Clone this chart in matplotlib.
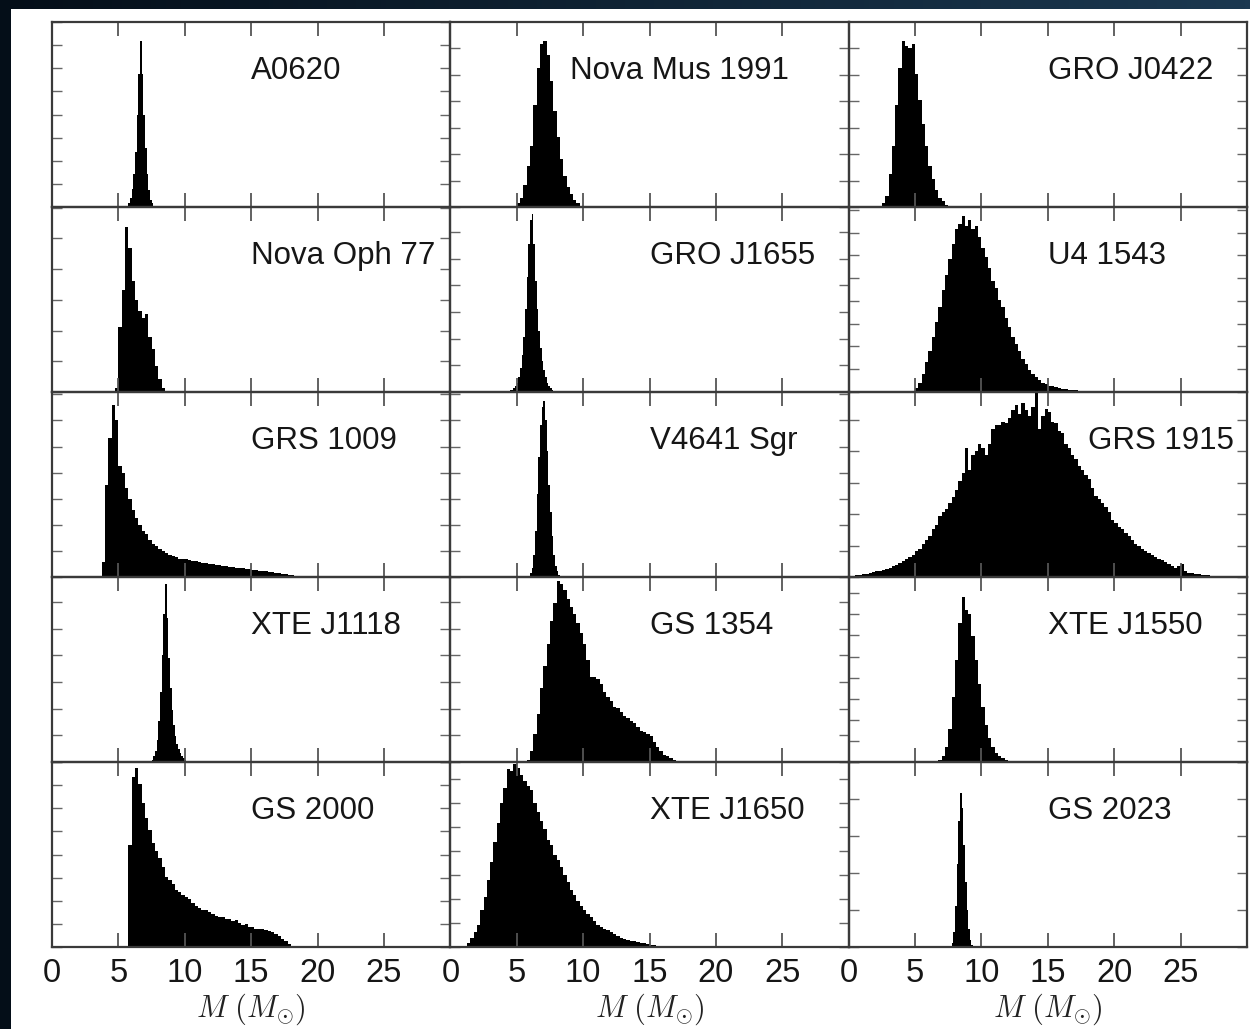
import numpy as np
import matplotlib
matplotlib.use("Agg")
import matplotlib.pyplot as plt
from matplotlib.patches import Rectangle
from matplotlib.ticker import MultipleLocator

# each source: first bin edge, bin width (solar masses) and normalised bin heights
a0620_start, a0620_bin = 5.75, 0.125
a0620 = [0.02, 0.05, 0.1, 0.18, 0.3, 0.5, 0.72, 0.9, 0.72, 0.5, 0.32, 0.18, 0.09, 0.04, 0.02]

nova_mus_start, nova_mus_bin = 5.0, 0.25
nova_mus = [0.02, 0.05, 0.12, 0.22, 0.33, 0.55, 0.75, 0.88, 0.9, 0.82, 0.68, 0.52,
            0.38, 0.26, 0.17, 0.11, 0.07, 0.04, 0.02]

gro_j0422_start, gro_j0422_bin = 2.5, 0.25
gro_j0422 = [0.02, 0.06, 0.18, 0.33, 0.55, 0.75, 0.9, 0.87, 0.86, 0.88, 0.72, 0.58,
             0.45, 0.33, 0.22, 0.15, 0.09, 0.05, 0.03, 0.01]

nova_oph_start, nova_oph_bin = 4.75, 0.25
nova_oph = [0.02, 0.35, 0.55, 0.89, 0.78, 0.6, 0.5, 0.44, 0.4, 0.42, 0.3, 0.23,
            0.14, 0.07, 0.02]

gro_j1655_start, gro_j1655_bin = 4.5, 0.125
gro_j1655 = [0.01, 0.01, 0.02, 0.03, 0.05, 0.08, 0.13, 0.2, 0.3, 0.45, 0.62, 0.8,
             0.93, 0.96, 0.8, 0.6, 0.45, 0.33, 0.24, 0.17, 0.12, 0.08, 0.05, 0.03,
             0.02, 0.01]

u4_1543_start, u4_1543_bin = 5.0, 0.25
u4_1543 = [0.02, 0.05, 0.1, 0.16, 0.22, 0.3, 0.38, 0.46, 0.55, 0.63, 0.72, 0.8,
           0.88, 0.91, 0.95, 0.9, 0.93, 0.88, 0.9, 0.84, 0.78, 0.73, 0.67, 0.6,
           0.56, 0.5, 0.46, 0.4, 0.35, 0.3, 0.26, 0.22, 0.18, 0.15, 0.12, 0.1,
           0.08, 0.065, 0.05, 0.045, 0.035, 0.03, 0.025, 0.02, 0.018, 0.015, 0.013, 0.012,
           0.01, 0.008, 0.007, 0.006, 0.006, 0.005, 0.005, 0.004, 0.004, 0.003, 0.003, 0.002,
           0.002, 0.002, 0.001, 0.001, 0.001, 0.001]

grs_1009_start, grs_1009_bin = 3.75, 0.25
grs_1009 = [0.08, 0.5, 0.75, 0.93, 0.85, 0.6, 0.56, 0.48, 0.42, 0.36, 0.32, 0.28,
            0.25, 0.23, 0.2, 0.18, 0.165, 0.15, 0.14, 0.13, 0.12, 0.115, 0.11, 0.1,
            0.098, 0.095, 0.09, 0.088, 0.085, 0.08, 0.078, 0.075, 0.07, 0.068, 0.065, 0.063,
            0.06, 0.058, 0.055, 0.052, 0.05, 0.048, 0.046, 0.044, 0.042, 0.04, 0.038, 0.035,
            0.033, 0.03, 0.028, 0.025, 0.022, 0.02, 0.018, 0.015, 0.012, 0.01, 0.008, 0.006,
            0.004, 0.003, 0.002, 0.001]

v4641_start, v4641_bin = 6.0, 0.125
v4641 = [0.02, 0.05, 0.12, 0.25, 0.45, 0.65, 0.82, 0.92, 0.95, 0.85, 0.68, 0.5,
         0.35, 0.22, 0.12, 0.06, 0.03, 0.01]

grs_1915_start, grs_1915_bin = 0.25, 0.25
grs_1915 = [0.005, 0.01, 0.01, 0.015, 0.015, 0.02, 0.025, 0.03, 0.035, 0.04, 0.045, 0.05,
            0.06, 0.065, 0.075, 0.085, 0.1, 0.11, 0.12, 0.14, 0.15, 0.18, 0.2, 0.22,
            0.26, 0.28, 0.33, 0.35, 0.37, 0.4, 0.43, 0.47, 0.52, 0.56, 0.7, 0.58,
            0.66, 0.68, 0.72, 0.7, 0.66, 0.72, 0.8, 0.82, 0.82, 0.84, 0.83, 0.86,
            0.9, 0.93, 0.88, 0.94, 0.9, 0.87, 0.92, 1.05, 0.8, 0.87, 0.91, 0.89,
            0.84, 0.83, 0.79, 0.78, 0.72, 0.7, 0.66, 0.64, 0.6, 0.58, 0.55, 0.53,
            0.48, 0.44, 0.42, 0.4, 0.38, 0.35, 0.31, 0.29, 0.27, 0.26, 0.24, 0.22,
            0.2, 0.18, 0.17, 0.15, 0.14, 0.13, 0.12, 0.11, 0.1, 0.09, 0.08, 0.07,
            0.06, 0.05, 0.06, 0.07, 0.03, 0.02, 0.02, 0.015, 0.015, 0.012, 0.01, 0.01,
            0.008, 0.008, 0.006, 0.005, 0.005, 0.004, 0.003, 0.002, 0.002, 0.001]

xte_j1118_start, xte_j1118_bin = 7.5, 0.125
xte_j1118 = [0.01, 0.03, 0.06, 0.12, 0.22, 0.38, 0.58, 0.8, 0.96, 0.78, 0.56, 0.4,
             0.28, 0.2, 0.14, 0.1, 0.07, 0.05, 0.03, 0.02, 0.01, 0.005]

gs_1354_start, gs_1354_bin = 5.75, 0.25
gs_1354 = [0.01, 0.06, 0.15, 0.26, 0.4, 0.52, 0.64, 0.76, 0.86, 0.98, 0.96, 0.93,
           0.88, 0.84, 0.8, 0.75, 0.7, 0.64, 0.55, 0.46, 0.46, 0.45, 0.42, 0.38,
           0.35, 0.33, 0.3, 0.29, 0.27, 0.25, 0.24, 0.22, 0.21, 0.19, 0.17, 0.16,
           0.15, 0.14, 0.11, 0.08, 0.06, 0.04, 0.03, 0.02, 0.01, 0.008, 0.005, 0.004,
           0.003, 0.002, 0.001, 0.001, 0.001, 0.001]

xte_j1550_start, xte_j1550_bin = 6.75, 0.25
xte_j1550 = [0.01, 0.03, 0.08, 0.18, 0.35, 0.55, 0.75, 0.89, 0.82, 0.8, 0.68, 0.55,
             0.42, 0.3, 0.2, 0.13, 0.08, 0.05, 0.03, 0.02, 0.01, 0.008, 0.006, 0.004,
             0.003, 0.002]

gs_2000_start, gs_2000_bin = 5.75, 0.25
gs_2000 = [0.55, 0.92, 0.97, 0.88, 0.78, 0.7, 0.63, 0.56, 0.52, 0.48, 0.43, 0.38,
           0.36, 0.34, 0.31, 0.3, 0.28, 0.27, 0.26, 0.24, 0.22, 0.21, 0.2, 0.2,
           0.19, 0.18, 0.17, 0.16, 0.16, 0.15, 0.15, 0.14, 0.145, 0.13, 0.12, 0.125,
           0.11, 0.11, 0.1, 0.1, 0.095, 0.09, 0.085, 0.08, 0.07, 0.06, 0.045, 0.03,
           0.015, 0.005]

xte_j1650_start, xte_j1650_bin = 1.25, 0.25
xte_j1650 = [0.02, 0.05, 0.08, 0.12, 0.2, 0.27, 0.36, 0.46, 0.57, 0.67, 0.78, 0.86,
             0.96, 0.95, 0.99, 0.97, 0.93, 0.9, 0.87, 0.85, 0.78, 0.73, 0.68, 0.64,
             0.58, 0.55, 0.5, 0.47, 0.43, 0.39, 0.35, 0.31, 0.28, 0.25, 0.22, 0.2,
             0.18, 0.16, 0.14, 0.12, 0.11, 0.1, 0.09, 0.08, 0.07, 0.06, 0.05, 0.045,
             0.04, 0.035, 0.03, 0.028, 0.022, 0.02, 0.015, 0.012, 0.01, 0.008, 0.007, 0.006,
             0.005, 0.004, 0.003, 0.002, 0.001]

gs_2023_start, gs_2023_bin = 7.75, 0.125
gs_2023 = [0.02, 0.08, 0.22, 0.45, 0.68, 0.83, 0.75, 0.55, 0.35, 0.2, 0.1, 0.04, 0.01]

# panels in reading order (rows of three)
names = ["A0620", "Nova Mus 1991", "GRO J0422",
         "Nova Oph 77", "GRO J1655", "U4 1543",
         "GRS 1009", "V4641 Sgr", "GRS 1915",
         "XTE J1118", "GS 1354", "XTE J1550",
         "GS 2000", "XTE J1650", "GS 2023"]
starts = [a0620_start, nova_mus_start, gro_j0422_start,
          nova_oph_start, gro_j1655_start, u4_1543_start,
          grs_1009_start, v4641_start, grs_1915_start,
          xte_j1118_start, gs_1354_start, xte_j1550_start,
          gs_2000_start, xte_j1650_start, gs_2023_start]
widths = [a0620_bin, nova_mus_bin, gro_j0422_bin,
          nova_oph_bin, gro_j1655_bin, u4_1543_bin,
          grs_1009_bin, v4641_bin, grs_1915_bin,
          xte_j1118_bin, gs_1354_bin, xte_j1550_bin,
          gs_2000_bin, xte_j1650_bin, gs_2023_bin]
heights = [a0620, nova_mus, gro_j0422,
           nova_oph, gro_j1655, u4_1543,
           grs_1009, v4641, grs_1915,
           xte_j1118, gs_1354, xte_j1550,
           gs_2000, xte_j1650, gs_2023]

xticks = [0, 5, 10, 15, 20, 25, 30]
xticklabels = ["0", "5", "10", "15", "20", "25", ""]

# layout bits (where the name goes, spacing of the count ticks)
label_x = [15, 9, 15, 15, 15, 15, 15, 15, 18, 15, 15, 15, 15, 15, 15]
ytick_step = [0.125, 0.143, 0.143, 0.166, 0.144, 0.123, 0.141, 0.141, 0.17,
              0.144, 0.144, 0.114, 0.125, 0.13, 0.2]

plt.rcParams["font.family"] = ["Liberation Sans", "DejaVu Sans"]
plt.rcParams["mathtext.fontset"] = "cm"

W, H = 1250, 1029
fig, axes = plt.subplots(5, 3, figsize=(W / 100, H / 100), dpi=100)
fig.subplots_adjust(left=52 / W, right=1247 / W, top=1 - 22 / H, bottom=1 - 947 / H,
                    wspace=0, hspace=0)

# dark slide background with the white page on top
bg = fig.add_axes([0, 0, 1, 1], zorder=-3)
bg.imshow(np.linspace(0, 1, 256)[None, :], aspect="auto", extent=[0, 1, 0, 1],
          cmap=matplotlib.colors.LinearSegmentedColormap.from_list("bg", ["#040e18", "#1b3850"]))
bg.axis("off")
fig.add_artist(Rectangle((11 / W, 0), 1 - 11 / W, 1 - 9 / H, transform=fig.transFigure,
                         facecolor="white", edgecolor="none", zorder=-2))

for i, ax in enumerate(axes.flat):
    row, col = divmod(i, 3)
    h = np.array(heights[i])
    edges = starts[i] + widths[i] * np.arange(len(h) + 1)
    ax.stairs(h, edges, fill=True, color="black", clip_on=(names[i] != "GRS 1915"))
    ax.set_xlim(0, 30)
    ax.set_ylim(0, 1)
    ax.patch.set_alpha(0)
    ax.text(label_x[i], 0.735, names[i], ha="left", va="center", fontsize=22.5,
            color="#161616")
    ax.set_xticks(xticks)
    ax.yaxis.set_major_locator(MultipleLocator(ytick_step[i]))
    ax.tick_params(axis="x", direction="in", length=10, width=1.3, color="#555555",
                   top=True, bottom=True, labelsize=23.5, pad=8, labelcolor="#161616")
    ax.tick_params(axis="y", direction="in", length=7, width=1.0, color="#666666",
                   left=True, right=True, labelleft=False)
    for s in ax.spines.values():
        s.set_color("#3a3a3a")
        s.set_linewidth(1.6)
    if row == 4:
        ax.set_xticklabels(xticklabels)
        ax.set_xlabel(r"$M\ (M_{\odot})$", fontsize=22, color="#222222", labelpad=2)
    else:
        ax.set_xticklabels([])

fig.savefig("out.png", dpi=100, facecolor=fig.get_facecolor())
